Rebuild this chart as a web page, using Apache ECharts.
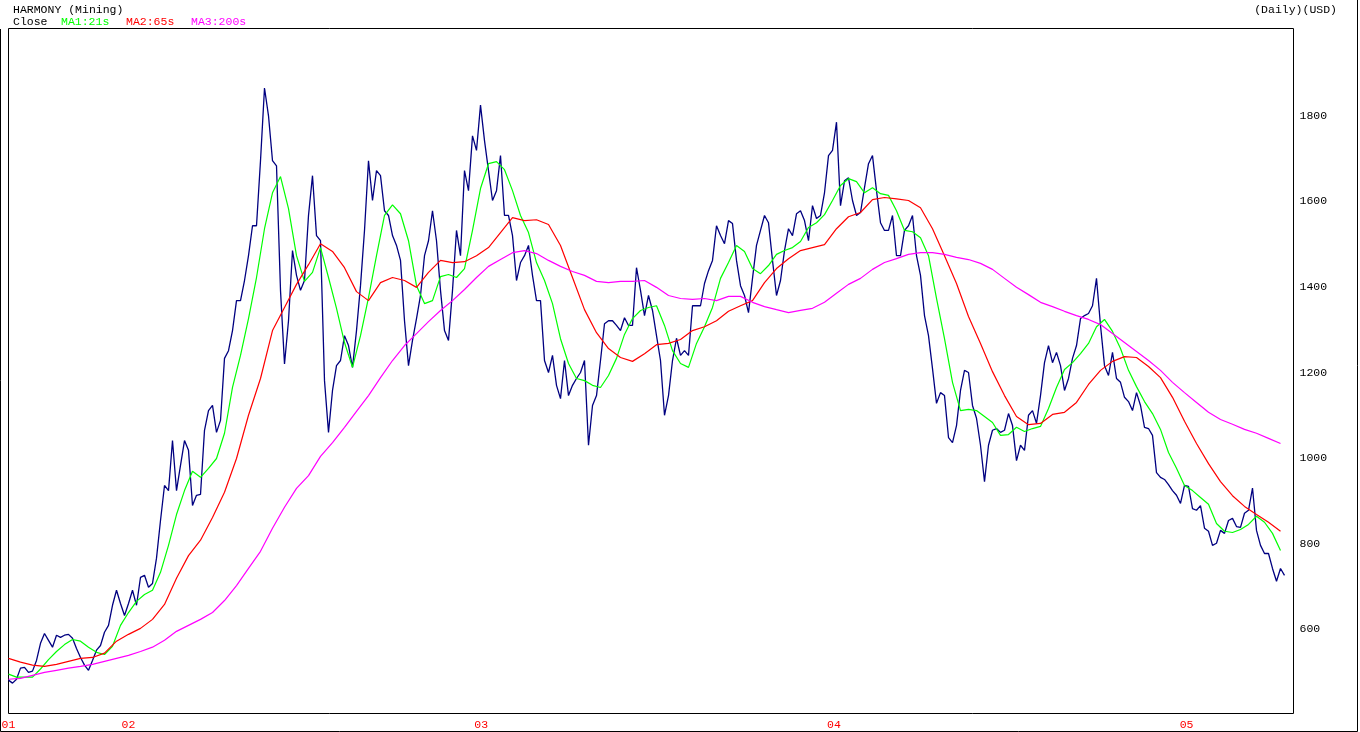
<!DOCTYPE html>
<html><head><meta charset="utf-8">
<script src="https://cdn.jsdelivr.net/npm/echarts@6/dist/echarts.min.js"></script>
<style>html,body{margin:0;padding:0;background:#fff}#c{width:1360px;height:732px}</style>
</head><body><div id="c"></div>
<script>
// ---- data ----
const START_YEAR = 2001.6598;   // first sample date (fractional year)
const END_YEAR = 2005.3031;     // right edge of the time axis
const STEP = 0.011341;          // years between two close samples
const yearTicks = [2002, 2003, 2004, 2005];
const priceTicks = [600, 800, 1000, 1200, 1400, 1600, 1800];
const PRICE_MIN = 403, PRICE_MAX = 2004;

const close = [
 481,474,483,509,511,499,502,527,567,590,
 574,558,586,581,586,588,579,555,534,516,
 504,527,551,562,593,609,656,691,660,632,
 660,691,656,721,726,698,707,766,854,936,
 924,1041,924,983,1041,1018,889,913,
 915,1065,1111,1123,1060,1088,1233,1251,1298,1368,
 1368,1415,1473,1543,1543,1695,1865,1800,1695,1683,
 1392,1220,1321,1485,1427,1392,1415,1567,1660,1520,
 1508,1181,1060,1158,1216,1228,
 1286,1263,1212,1298,1403,1532,1695,1602,1672,1660,
 1578,1567,1520,1497,1462,1321,1216,1275,1326,1380,
 1473,1508,1578,1508,1392,1298,1275,1392,1532,1473,
 1672,1625,1753,1719,1825,1742,1672,1602,1625,1707,
 1567,1567,1520,1415,1457,1473,1497,
 1427,1368,1368,1228,1200,1240,1170,1139,1228,1146,
 1170,1186,1200,1228,1030,1123,1146,1228,1314,1321,
 1321,1310,1298,1328,1310,1310,1445,1392,1333,1380,
 1345,1286,1228,1100,1146,1228,1280,1240,1251,1240,
 1356,1356,1356,1408,1438,1462,1543,
 1520,1501,1555,1548,1462,1403,1380,1340,1420,1497,
 1532,1567,1550,1462,1380,1415,1485,1536,1520,1571,
 1578,1555,1508,1590,1560,1567,1620,1707,1719,1785,
 1590,1648,1655,1602,1567,1574,1632,1688,1707,1625,
 1550,1532,1532,1567,1473,1473,1532,1543,
 1567,1473,1427,1333,1286,1209,1128,1153,1146,1048,
 1036,1076,1158,1205,1200,1123,1093,1030,945,1030,
 1065,1069,1060,1065,1104,1076,994,1030,1018,1100,
 1111,1081,1146,1223,1263,1223,1247,1216,1158,1186,
 1233,1263,1326,1333,1338,1356,1420,
 1310,1216,1193,1247,1186,1177,1142,1132,1111,1153,
 1123,1072,1069,1053,966,955,950,938,924,913,
 894,936,934,882,878,889,836,829,796,801,
 831,824,854,859,840,838,871,878,930,831,
 796,777,777,742,712,742,726
];
// moving averages, one value every 2 (ma21) or 3 (ma65, ma200) close samples
const ma21 = [
 495,488,488,488,507,529,548,564,576,572,
 558,546,541,560,609,639,665,681,691,733,
 796,868,924,969,955,976,999,1058,1165,1240,
 1326,1422,1536,1620,1658,1583,1473,1413,1434,1492,
 1422,1350,1270,1212,1286,1375,1473,1567,1592,1571,
 1508,1403,1361,1368,1424,1429,1422,1443,1532,1630,
 1688,1693,1674,1625,1567,1527,1457,1415,1361,1279,
 1221,1186,1181,1170,1165,1193,1233,1289,1326,1345,
 1352,1356,1310,1251,1221,1212,1268,1307,1352,1420,
 1457,1497,1483,1443,1431,1450,1476,1485,1492,1506,
 1539,1550,1569,1602,1637,1653,1646,1620,1632,1618,
 1614,1578,1532,1529,1515,1473,1373,1279,1177,1111,
 1114,1111,1097,1083,1053,1055,1072,1062,1069,1074,
 1116,1165,1207,1223,1244,1268,1307,1324,1296,1256,
 1205,1167,1132,1104,1067,1013,976,936,924,908,
 892,847,829,826,833,845,864,850,824,784
];
const ma65 = [
 532,523,516,513,518,525,532,534,544,572,
 588,602,623,658,719,772,808,861,920,999,
 1100,1186,1298,1352,1406,1452,1501,1483,1445,1389,
 1368,1410,1422,1415,1399,1434,1462,1457,1459,1473,
 1492,1527,1562,1555,1557,1546,1497,1422,1347,1293,
 1256,1235,1226,1244,1265,1268,1277,1298,1307,1321,
 1343,1356,1368,1410,1443,1466,1485,1492,1499,1536,
 1564,1574,1604,1609,1606,1602,1585,1536,1473,1408,
 1331,1268,1202,1146,1097,1078,1081,1102,1107,1130,
 1172,1205,1226,1237,1235,1214,1188,1142,1086,1034,
 987,945,912,887,868,850,829
];
const ma200 = [
 483,485,492,499,504,509,513,518,525,532,
 539,548,558,574,595,609,623,639,667,702,
 742,782,836,885,929,959,1004,1036,1072,1109,
 1146,1188,1228,1263,1291,1319,1345,1368,1394,1422,
 1448,1464,1480,1485,1478,1462,1448,1436,1427,1413,
 1410,1413,1413,1415,1399,1380,1373,1371,1373,1368,
 1378,1378,1364,1354,1347,1340,1345,1350,1364,1385,
 1406,1420,1441,1457,1466,1476,1480,1480,1476,1469,
 1464,1455,1441,1420,1399,1382,1364,1354,1343,1333,
 1324,1312,1291,1270,1249,1228,1205,1177,1153,1130,
 1107,1090,1079,1067,1058,1046,1034
];

function pts(arr, every) {
  return arr.map((v, i) => [START_YEAR + i * every * STEP, v]);
}

const FONT = '"Liberation Mono", "DejaVu Sans Mono", monospace';
const chart = echarts.init(document.getElementById('c'), null, {renderer: 'canvas'});

function txt(x, y, text, color, align) {
  return {type: 'text', x: x, y: y, silent: true,
    style: {text: text, fill: color, font: '11.5px ' + FONT, align: align || 'left', verticalAlign: 'middle'}};
}

const line = (name, data, color, z, w) => ({
  name: name, type: 'line', data: data, showSymbol: false, symbol: 'none',
  lineStyle: {color: color, width: w, opacity: 1}, itemStyle: {color: color}, z: z,
  emphasis: {disabled: true}, blur: {lineStyle: {opacity: 1}},
  animation: false, silent: true, clip: true
});

chart.setOption({
  backgroundColor: '#ffffff',
  animation: false,
  grid: {left: 8.5, top: 28.5, right: 66.5, bottom: 18.5, show: true,
    borderColor: '#000', borderWidth: 1, backgroundColor: 'transparent',
    containLabel: false, outerBoundsMode: 'none'},
  xAxis: {
    type: 'value', min: START_YEAR, max: END_YEAR,
    axisLine: {show: false}, axisTick: {show: false}, splitLine: {show: false},
    axisLabel: {
      customValues: [START_YEAR].concat(yearTicks),
      showMinLabel: true, showMaxLabel: true, hideOverlap: false,
      color: '#ff0000', fontFamily: FONT, fontSize: 11.5, margin: 5,
      formatter: v => String(Math.floor(v + 1e-6) % 100).padStart(2, '0')
    }
  },
  yAxis: {
    type: 'value', position: 'right', min: PRICE_MIN, max: PRICE_MAX,
    axisLine: {show: false}, axisTick: {show: false}, splitLine: {show: false},
    axisLabel: {customValues: priceTicks, color: '#000', fontFamily: FONT, fontSize: 11.5, margin: 6,
      formatter: v => String(Math.round(v))}
  },
  series: [
    line('Close', pts(close, 1), '#000080', 2, 1.3),
    line('MA1:21s', pts(ma21, 2), '#00ff00', 3, 1.2),
    line('MA2:65s', pts(ma65, 3), '#ff0000', 4, 1.2),
    line('MA3:200s', pts(ma200, 3), '#ff00ff', 5, 1.2)
  ],
  graphic: [
    txt(13, 10, 'HARMONY (Mining)', '#000'),
    txt(1337, 10, '(Daily)(USD)', '#000', 'right'),
    txt(13, 22, 'Close', '#000'),
    txt(61, 22, 'MA1:21s', '#00ff00'),
    txt(126, 22, 'MA2:65s', '#ff0000'),
    txt(191, 22, 'MA3:200s', '#ff00ff'),
    {type: 'polyline', silent: true,
      shape: {points: [[0.5, 29], [0.5, 731.5], [1357.5, 731.5], [1357.5, 0]]},
      style: {stroke: '#000', lineWidth: 1, fill: null}}
  ]
});
</script>
</body></html>
